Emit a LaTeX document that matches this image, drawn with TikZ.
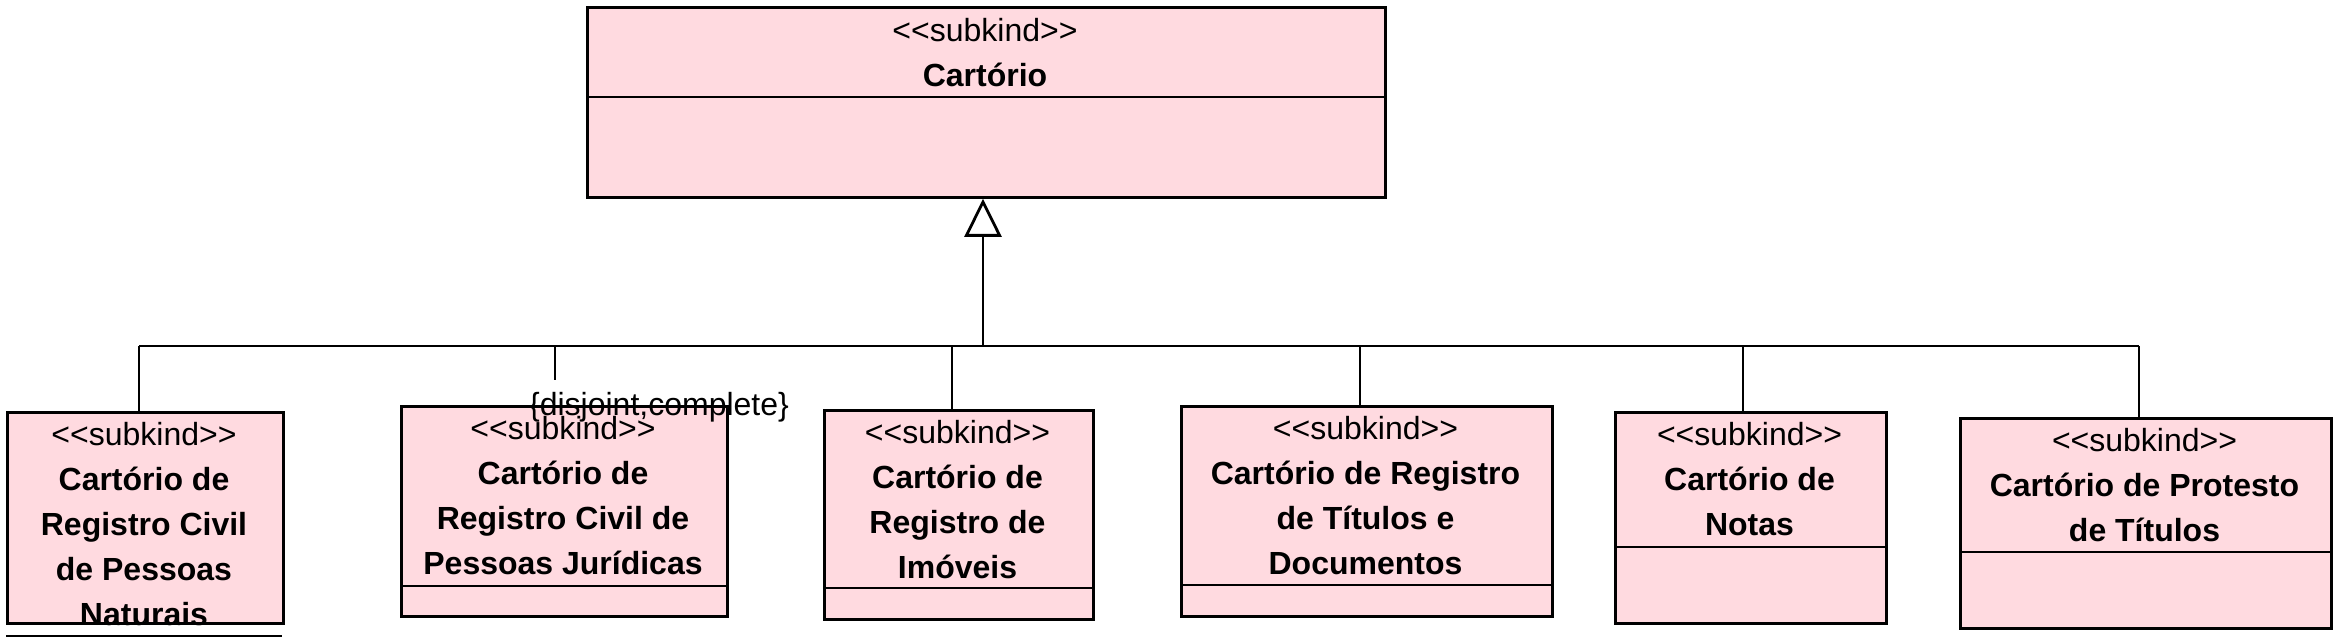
\documentclass[tikz,border=0pt]{standalone}
\usepackage{fontspec}
\setmainfont{Liberation Sans}
\usetikzlibrary{arrows.meta}
\definecolor{boxpink}{RGB}{255,218,224}
\newcommand{\stx}{<{}<subkind>{}>}
\begin{document}
\begin{tikzpicture}[x=0.25pt,y=-0.25pt,
  cls/.style={draw, line width=0.7pt, fill=boxpink, inner sep=0pt, anchor=north west},
  st/.style={font=\fontsize{8}{9.6}\selectfont, anchor=base, inner sep=0pt},
  nm/.style={font=\fontsize{8}{9.6}\selectfont\bfseries, anchor=base, inner sep=0pt},
  ln/.style={line width=0.7pt},
  gen/.style={line width=0.7pt, -{Triangle[open, fill=white, length=9.5pt, width=9.25pt]}}]
\useasboundingbox (0,0) rectangle (2343,639);

% top class
\node[cls, minimum width=199.5pt, minimum height=47.5pt] (top) at (586,6) {};
\draw[ln] (586,97) -- (1384,97);
\node[st] (tops) at (985,42) {\stx};
\node[nm] (topn) at (985,87) {Cartório};

% box 1
\node[cls, minimum width=69pt, minimum height=52.75pt] (c1) at (6,411) {};
\node[st] (c1s) at (144,446) {\stx};
\node[nm] (c1a) at (144,491) {Cartório de};
\node[nm] (c1b) at (144,536) {Registro Civil};
\node[nm] (c1c) at (144,581) {de Pessoas};
\node[nm] (c1d) at (144,626) {Naturais};
\draw[ln] (6,636) -- (282,636);

% box 2
\node[cls, minimum width=81.5pt, minimum height=52.5pt] (c2) at (400,405) {};
\draw[ln] (400,586) -- (726,586);
\node[st] (c2s) at (563,440) {\stx};
\node[nm] (c2a) at (563,485) {Cartório de};
\node[nm] (c2b) at (563,530) {Registro Civil de};
\node[nm] (c2c) at (563,575) {Pessoas Jurídicas};

% box 3
\node[cls, minimum width=67.25pt, minimum height=52.25pt] (c3) at (823,409) {};
\draw[ln] (823,588) -- (1092,588);
\node[st] (c3s) at (957.5,444) {\stx};
\node[nm] (c3a) at (957.5,489) {Cartório de};
\node[nm] (c3b) at (957.5,534) {Registro de};
\node[nm] (c3c) at (957.5,579) {Imóveis};

% box 4
\node[cls, minimum width=92.75pt, minimum height=52.5pt] (c4) at (1180,405) {};
\draw[ln] (1180,585) -- (1551,585);
\node[st] (c4s) at (1365.5,440) {\stx};
\node[nm] (c4a) at (1365.5,485) {Cartório de Registro};
\node[nm] (c4b) at (1365.5,530) {de Títulos e};
\node[nm] (c4c) at (1365.5,575) {Documentos};

% box 5
\node[cls, minimum width=67.75pt, minimum height=52.75pt] (c5) at (1614,411) {};
\draw[ln] (1614,547) -- (1885,547);
\node[st] (c5s) at (1749.5,446) {\stx};
\node[nm] (c5a) at (1749.5,491) {Cartório de};
\node[nm] (c5b) at (1749.5,536) {Notas};

% box 6
\node[cls, minimum width=92.75pt, minimum height=52.5pt] (c6) at (1959,417) {};
\draw[ln] (1959,552) -- (2330,552);
\node[st] (c6s) at (2144.5,452) {\stx};
\node[nm] (c6a) at (2144.5,497) {Cartório de Protesto};
\node[nm] (c6b) at (2144.5,542) {de Títulos};

% generalization set
\coordinate (j1) at (139,346);
\coordinate (jc) at (555,346);
\coordinate (jm) at (983,346);
\coordinate (j3) at (952,346);
\coordinate (j4) at (1360,346);
\coordinate (j5) at (1743,346);
\coordinate (j6) at (2139,346);
\coordinate (cend) at (555,380);
\draw[ln] (j1) -- (j6);
\draw[gen] (jm) -- (jm |- top.south);
\draw[ln] (j1) -- (j1 |- c1.north);
\draw[ln] (j3) -- (j3 |- c3.north);
\draw[ln] (j4) -- (j4 |- c4.north);
\draw[ln] (j5) -- (j5 |- c5.north);
\draw[ln] (j6) -- (j6 |- c6.north);
\draw[ln] (jc) -- (cend);
\node[st] (gs) at (659,416) {\{disjoint,complete\}};
\end{tikzpicture}
\end{document}
